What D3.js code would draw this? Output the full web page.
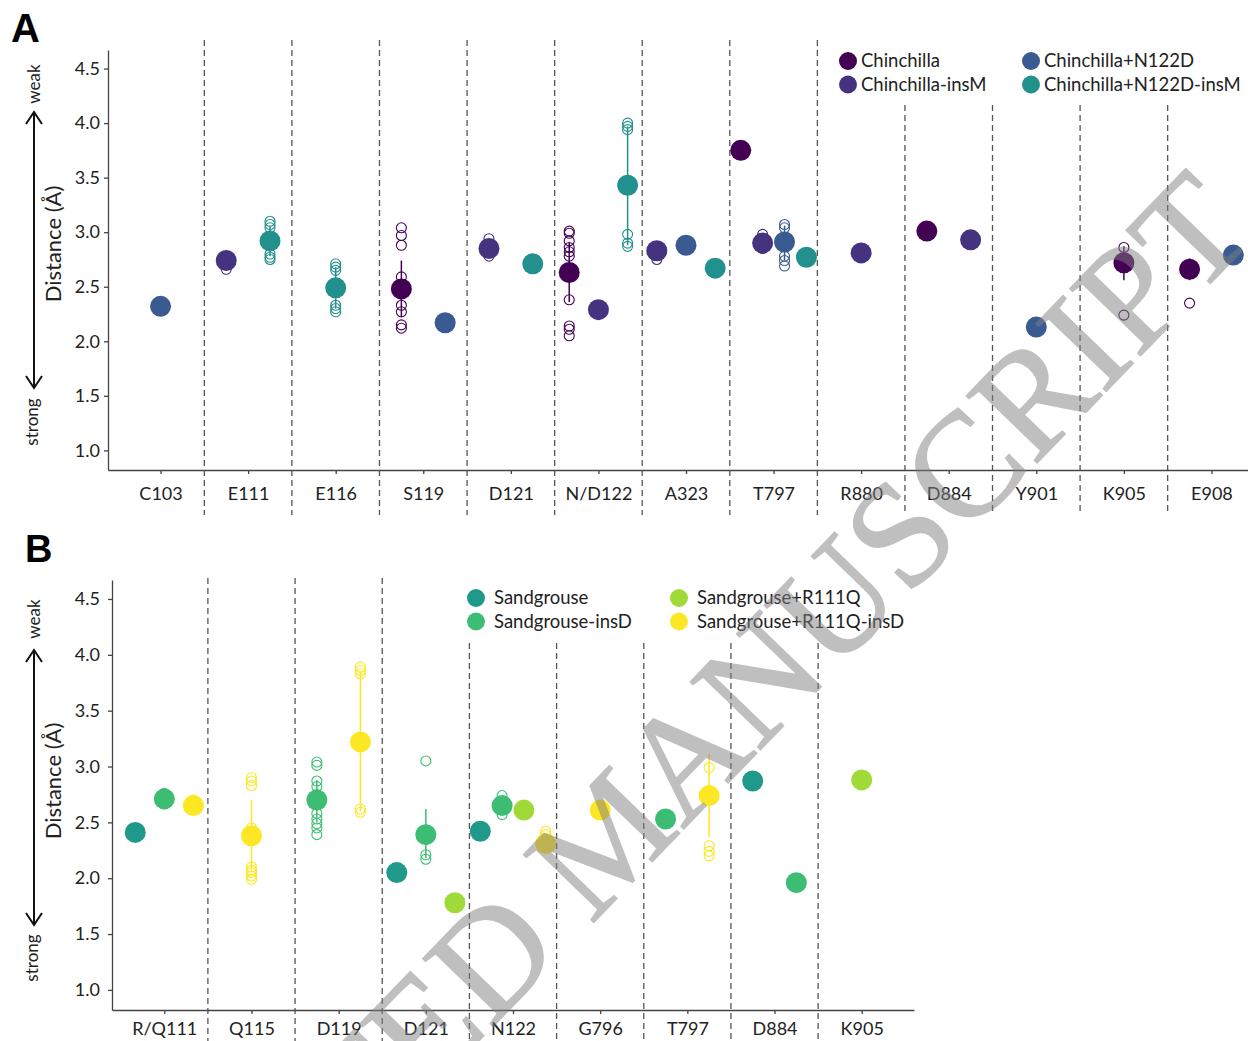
<!DOCTYPE html>
<html>
<head>
<meta charset="utf-8">
<script src="https://cdn.jsdelivr.net/npm/d3@7"></script>
<style>
  body { margin: 0; background: #fff; }
  text { font-family: Lato, "Open Sans", sans-serif; }
</style>
</head>
<body>
<div id="chart"></div>
<script>
/* Distance plots, panel A (chinchilla) and panel B (sandgrouse) */

// ---- panel A data ----
const residuesA = ["C103", "E111", "E116", "S119", "D121", "N/D122", "A323", "T797", "R880", "D884", "Y901", "K905", "E908"];
const seriesA = ["Chinchilla", "Chinchilla-insM", "Chinchilla+N122D", "Chinchilla+N122D-insM"];
const coloursA = ["#440154", "#46337f", "#3a5b91", "#22908d"];

// [residue, series, mean distance]
const meansA = [
    ["C103", "Chinchilla+N122D", 2.32],
    ["E111", "Chinchilla-insM", 2.74],
    ["E111", "Chinchilla+N122D-insM", 2.92],
    ["E116", "Chinchilla+N122D-insM", 2.49],
    ["S119", "Chinchilla", 2.48],
    ["S119", "Chinchilla+N122D", 2.17],
    ["D121", "Chinchilla-insM", 2.85],
    ["D121", "Chinchilla+N122D-insM", 2.71],
    ["N/D122", "Chinchilla", 2.63],
    ["N/D122", "Chinchilla-insM", 2.29],
    ["N/D122", "Chinchilla+N122D-insM", 3.43],
    ["A323", "Chinchilla-insM", 2.83],
    ["A323", "Chinchilla+N122D", 2.88],
    ["A323", "Chinchilla+N122D-insM", 2.67],
    ["T797", "Chinchilla", 3.75],
    ["T797", "Chinchilla-insM", 2.90],
    ["T797", "Chinchilla+N122D", 2.91],
    ["T797", "Chinchilla+N122D-insM", 2.77],
    ["R880", "Chinchilla-insM", 2.81],
    ["D884", "Chinchilla", 3.01],
    ["D884", "Chinchilla-insM", 2.93],
    ["Y901", "Chinchilla+N122D", 2.13],
    ["K905", "Chinchilla", 2.72],
    ["E908", "Chinchilla", 2.66],
    ["E908", "Chinchilla+N122D", 2.79]
];

// [residue, series, low, high] spread lines
const spreadA = [
    ["E111", "Chinchilla+N122D-insM", 2.78, 3.06],
    ["E116", "Chinchilla+N122D-insM", 2.30, 2.68],
    ["S119", "Chinchilla", 2.22, 2.74],
    ["N/D122", "Chinchilla", 2.36, 2.90],
    ["N/D122", "Chinchilla+N122D-insM", 2.88, 3.97],
    ["T797", "Chinchilla+N122D", 2.74, 3.06],
    ["K905", "Chinchilla", 2.56, 2.87],
    ["E908", "Chinchilla", 2.56, 2.76]
];

// [residue, series, replicate distances]
const repsA = [
    ["E111", "Chinchilla-insM", [2.66, 2.70, 2.75]],
    ["E111", "Chinchilla+N122D-insM", [3.10, 3.07, 3.04, 2.95, 2.80, 2.77, 2.75]],
    ["E116", "Chinchilla+N122D-insM", [2.71, 2.68, 2.65, 2.33, 2.30, 2.27]],
    ["S119", "Chinchilla", [3.04, 2.97, 2.88, 2.59, 2.33, 2.27, 2.15, 2.12]],
    ["D121", "Chinchilla-insM", [2.94, 2.78]],
    ["N/D122", "Chinchilla", [3.01, 2.99, 2.92, 2.86, 2.82, 2.78, 2.38, 2.14, 2.11, 2.05]],
    ["N/D122", "Chinchilla-insM", [2.25]],
    ["N/D122", "Chinchilla+N122D-insM", [4.00, 3.97, 3.94, 2.98, 2.90, 2.87]],
    ["A323", "Chinchilla-insM", [2.75]],
    ["T797", "Chinchilla", [3.78, 3.72]],
    ["T797", "Chinchilla-insM", [2.98, 2.85]],
    ["T797", "Chinchilla+N122D", [3.07, 3.04, 2.78, 2.74, 2.69]],
    ["K905", "Chinchilla", [2.86, 2.24]],
    ["E908", "Chinchilla", [2.35]]
];

// ---- panel B data ----
const residuesB = ["R/Q111", "Q115", "D119", "D121", "N122", "G796", "T797", "D884", "K905"];
const seriesB = ["Sandgrouse", "Sandgrouse-insD", "Sandgrouse+R111Q", "Sandgrouse+R111Q-insD"];
const coloursB = ["#1f9a8a", "#3dbc74", "#a0da39", "#fde725"];

const meansB = [
    ["R/Q111", "Sandgrouse", 2.41],
    ["R/Q111", "Sandgrouse-insD", 2.71],
    ["R/Q111", "Sandgrouse+R111Q-insD", 2.65],
    ["Q115", "Sandgrouse+R111Q-insD", 2.38],
    ["D119", "Sandgrouse-insD", 2.70],
    ["D119", "Sandgrouse+R111Q-insD", 3.22],
    ["D121", "Sandgrouse", 2.05],
    ["D121", "Sandgrouse-insD", 2.39],
    ["D121", "Sandgrouse+R111Q", 1.78],
    ["N122", "Sandgrouse", 2.42],
    ["N122", "Sandgrouse-insD", 2.65],
    ["N122", "Sandgrouse+R111Q", 2.61],
    ["N122", "Sandgrouse+R111Q-insD", 2.31],
    ["G796", "Sandgrouse+R111Q-insD", 2.61],
    ["T797", "Sandgrouse-insD", 2.53],
    ["T797", "Sandgrouse+R111Q-insD", 2.74],
    ["D884", "Sandgrouse", 2.87],
    ["D884", "Sandgrouse-insD", 1.96],
    ["K905", "Sandgrouse+R111Q", 2.88]
];

const spreadB = [
    ["Q115", "Sandgrouse+R111Q-insD", 2.07, 2.70],
    ["D119", "Sandgrouse-insD", 2.50, 2.88],
    ["D119", "Sandgrouse+R111Q-insD", 2.60, 3.85],
    ["D121", "Sandgrouse-insD", 2.18, 2.62],
    ["T797", "Sandgrouse+R111Q-insD", 2.37, 3.11]
];

const repsB = [
    ["R/Q111", "Sandgrouse-insD", [2.76]],
    ["R/Q111", "Sandgrouse+R111Q-insD", [2.70, 2.62]],
    ["Q115", "Sandgrouse+R111Q-insD", [2.90, 2.87, 2.83, 2.45, 2.10, 2.07, 2.05, 2.02, 1.99]],
    ["D119", "Sandgrouse-insD", [3.04, 3.01, 2.87, 2.82, 2.75, 2.58, 2.53, 2.49, 2.45, 2.39]],
    ["D119", "Sandgrouse+R111Q-insD", [3.89, 3.86, 3.83, 2.62, 2.59]],
    ["D121", "Sandgrouse-insD", [3.05, 2.21, 2.17]],
    ["N122", "Sandgrouse-insD", [2.74, 2.57]],
    ["N122", "Sandgrouse+R111Q-insD", [2.42, 2.39]],
    ["T797", "Sandgrouse+R111Q-insD", [2.99, 2.29, 2.24, 2.20]]
];

const yTicks = [1.0, 1.5, 2.0, 2.5, 3.0, 3.5, 4.0, 4.5];

const width = 1248, height = 1041;

const svg = d3.select("#chart")
    .append("svg")
    .attr("width", width)
    .attr("height", height);

function drawPanel(p) {
    const g = svg.append("g");

    let x = d3.scalePoint()
        .domain(p.residues)
        .range([p.x0, p.x1])
        .padding(0.6);

    let y = d3.scaleLinear()
        .domain([0.82, 4.67])
        .range([p.yBot, p.yTop]);

    let colour = d3.scaleOrdinal().domain(p.series).range(p.colours);

    // dodge points of one residue side by side
    const xPos = (res, s) => {
        const present = p.series.filter(k => p.means.some(m => m[0] === res && m[1] === k));
        const i = present.indexOf(s), n = present.length;
        return x(res) + (i - (n - 1) / 2) * x.step() / n;
    };

    // dashed separators between residues
    const seps = p.residues.slice(0, -1).map(r => x(r) + x.step() / 2);
    g.selectAll(".sep")
        .data(seps)
        .join("line")
        .attr("x1", d => d).attr("x2", d => d)
        .attr("y1", d => d > p.legendCut ? p.sepTopLegend : p.sepTop)
        .attr("y2", p.sepBottom)
        .attr("stroke", "#555")
        .attr("stroke-width", 1.3)
        .attr("stroke-dasharray", "6,4");

    // y axis
    let ya = g.append("g")
        .attr("transform", `translate(${p.x0},0)`)
        .call(d3.axisLeft(y).tickValues(yTicks).tickFormat(d3.format(".1f"))
            .tickSize(4).tickPadding(p.yPad).tickSizeOuter(0));
    ya.selectAll("text").attr("font-size", 18).attr("fill", "#222").style("font-family", "Lato");
    ya.selectAll("line, path").attr("stroke", "#444").attr("stroke-width", 1.3);

    // x axis
    let xa = g.append("g")
        .attr("transform", `translate(0,${p.yBot})`)
        .call(d3.axisBottom(x).tickSize(4).tickPadding(p.xPad).tickSizeOuter(0));
    xa.selectAll("text").attr("font-size", 18).attr("fill", "#222").style("font-family", "Lato");
    xa.selectAll("line, path").attr("stroke", "#444").attr("stroke-width", 1.3);

    // spread lines
    g.selectAll(".spread")
        .data(p.spread)
        .join("line")
        .attr("x1", d => xPos(d[0], d[1])).attr("x2", d => xPos(d[0], d[1]))
        .attr("y1", d => y(d[2])).attr("y2", d => y(d[3]))
        .attr("stroke", d => colour(d[1]))
        .attr("stroke-width", 1.5);

    // replicate values as open circles
    const reps = p.reps.flatMap(d => d[2].map(v => [d[0], d[1], v]));
    g.selectAll(".rep")
        .data(reps)
        .join("circle")
        .attr("cx", d => xPos(d[0], d[1]))
        .attr("cy", d => y(d[2]))
        .attr("r", 5)
        .attr("fill", "none")
        .attr("stroke", d => colour(d[1]))
        .attr("stroke-width", 1.1);

    // means
    g.selectAll(".mean")
        .data(p.means)
        .join("circle")
        .attr("cx", d => xPos(d[0], d[1]))
        .attr("cy", d => y(d[2]))
        .attr("r", 10.5)
        .attr("fill", d => colour(d[1]));

    // axis title and weak/strong arrow
    g.append("text")
        .attr("transform", `translate(61,${p.titleY}) rotate(-90)`)
        .attr("text-anchor", "middle")
        .attr("font-size", 22)
        .attr("fill", "#222")
        .text("Distance (Å)");

    g.append("text")
        .attr("transform", `translate(40,${p.weakY}) rotate(-90)`)
        .attr("text-anchor", "middle")
        .attr("font-size", 17)
        .attr("fill", "#222")
        .text("weak");

    g.append("text")
        .attr("transform", `translate(38,${p.strongY}) rotate(-90)`)
        .attr("text-anchor", "middle")
        .attr("font-size", 17)
        .attr("fill", "#222")
        .text("strong");

    const ax = 34;
    g.append("path")
        .attr("d", `M${ax},${p.arrowTop}V${p.arrowBot}` +
            `M${ax - 8},${p.arrowTop + 12}L${ax},${p.arrowTop}L${ax + 8},${p.arrowTop + 12}` +
            `M${ax - 8},${p.arrowBot - 12}L${ax},${p.arrowBot}L${ax + 8},${p.arrowBot - 12}`)
        .attr("fill", "none")
        .attr("stroke", "#111")
        .attr("stroke-width", 2);

    // panel letter
    g.append("text")
        .attr("x", p.labelX).attr("y", p.labelY)
        .attr("font-size", p.labelSize)
        .attr("font-weight", "bold")
        .style("font-family", "'Liberation Sans', Arial, sans-serif")
        .text(p.label);

    // legend, two columns
    let leg = g.selectAll(".leg")
        .data(p.series)
        .join("g")
        .attr("transform", (d, i) => `translate(${i < 2 ? p.legX1 : p.legX2},${p.legY + (i % 2) * 23.5})`);
    leg.append("circle").attr("r", 9).attr("fill", d => colour(d));
    leg.append("text")
        .attr("x", p.legGap)
        .attr("dy", "0.35em")
        .attr("font-size", 18.5)
        .attr("fill", "#222")
        .text(d => d);
}

drawPanel({
    residues: residuesA, series: seriesA, colours: coloursA,
    means: meansA, spread: spreadA, reps: repsA,
    x0: 108, x1: 1264, yTop: 50, yBot: 470,
    sepTop: 40, sepTopLegend: 105, legendCut: 830, sepBottom: 515,
    xPad: 13, yPad: 4,
    titleY: 244, weakY: 84, strongY: 422, arrowTop: 112, arrowBot: 388,
    label: "A", labelX: 11, labelY: 42, labelSize: 40,
    legX1: 848, legX2: 1031, legY: 61, legGap: 13
});

drawPanel({
    residues: residuesB, series: seriesB, colours: coloursB,
    means: meansB, spread: spreadB, reps: repsB,
    x0: 112, x1: 914, yTop: 580, yBot: 1010,
    sepTop: 578, sepTopLegend: 643, legendCut: 460, sepBottom: 1041,
    xPad: 8, yPad: 8,
    titleY: 781, weakY: 619, strongY: 958, arrowTop: 650, arrowBot: 925,
    label: "B", labelX: 25, labelY: 562, labelSize: 38,
    legX1: 476, legX2: 679, legY: 598, legGap: 18
});

// manuscript watermark across the figure
svg.append("text")
    .attr("transform", "translate(30,1506) rotate(-46)")
    .attr("font-size", 149)
    .style("font-family", "'Liberation Serif', 'DejaVu Serif', serif")
    .attr("fill", "#808080")
    .attr("stroke", "#808080")
    .attr("stroke-width", 1.5)
    .attr("opacity", 0.5)
    .text("ACCEPTED MANUSCRIPT");
</script>
</body>
</html>
